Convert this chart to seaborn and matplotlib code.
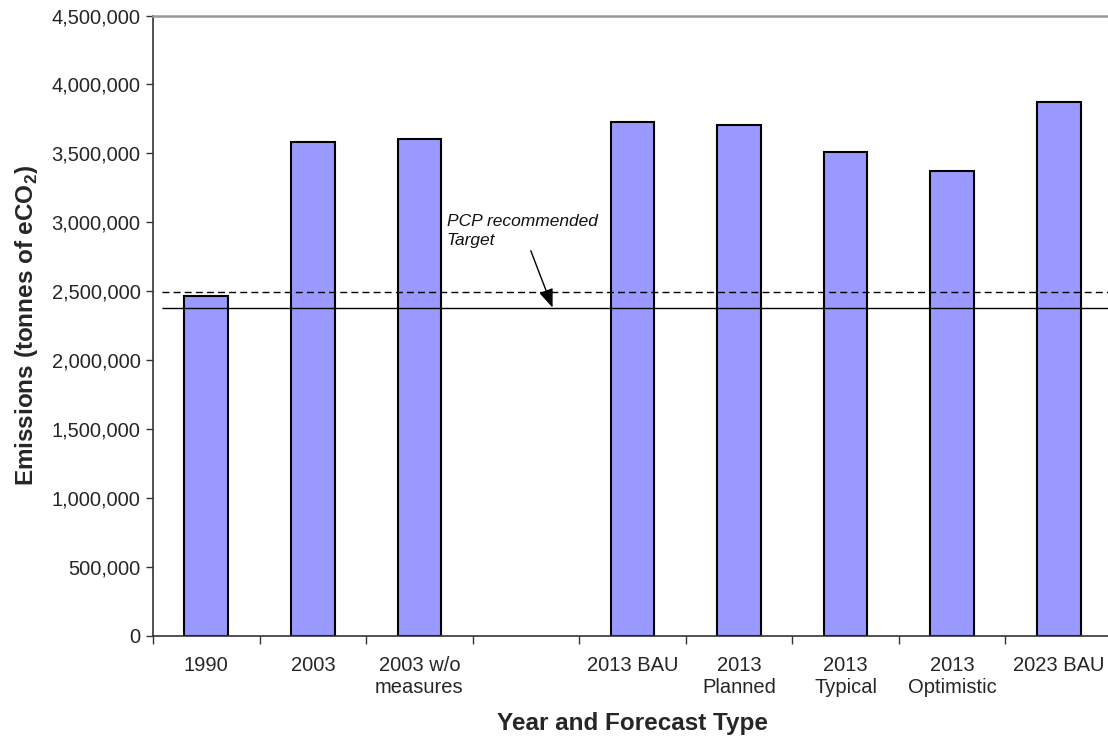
import numpy as np
import pandas as pd
import matplotlib
matplotlib.use("Agg")
import matplotlib.pyplot as plt
from matplotlib.ticker import FuncFormatter
import seaborn as sns

# Emission inventory and forecasts (tonnes eCO2); "" is an empty spacer slot
categories = ["1990", "2003", "2003 w/o\nmeasures", "", "2013 BAU",
              "2013\nPlanned", "2013\nTypical", "2013\nOptimistic", "2023 BAU"]
emission_labels = ["1990", "2003", "2003 w/o\nmeasures", "2013 BAU",
                   "2013\nPlanned", "2013\nTypical", "2013\nOptimistic", "2023 BAU"]
emission_values = [2466000, 3583000, 3605000, 3729000,
                   3703000, 3507000, 3369000, 3874000]

# Reference levels
dashed_level = 2492000
target_level = 2380000

y_ticks = list(range(0, 4500001, 500000))

sns.set_style("ticks")
plt.rcParams["font.family"] = ["Liberation Sans", "DejaVu Sans"]
plt.rcParams["mathtext.fontset"] = "custom"
plt.rcParams["mathtext.rm"] = "Liberation Sans"
plt.rcParams["mathtext.bf"] = "Liberation Sans:bold"

df = pd.DataFrame({"category": emission_labels, "emissions": emission_values})

fig = plt.figure(figsize=(11.08, 7.40), dpi=100)
ax = fig.add_axes([153 / 1108, 1 - 635.5 / 740, (1112 - 153) / 1108, (635.5 - 15.5) / 740])

sns.barplot(data=df, x="category", y="emissions", order=categories,
            color="#9999FF", saturation=1, width=0.41,
            edgecolor="black", linewidth=1.5, ax=ax)

ax.set_xlim(-0.5, len(categories) - 0.5)
ax.set_ylim(0, 4500000)

# Reference lines
ax.hlines(dashed_level, -0.42, len(categories) - 0.5, colors="black",
          linestyles=(0, (5, 3)), linewidth=1.0, zorder=3)
ax.hlines(target_level, -0.42, len(categories) - 0.5, colors="black",
          linewidth=1.0, zorder=3)

ax.annotate("PCP recommended\nTarget", xy=(3.25, target_level),
            xytext=(2.255, 3060000), textcoords="data",
            ha="left", va="top", fontsize=12.5, style="italic", color="#111111",
            linespacing=1.3,
            arrowprops=dict(arrowstyle="-|>,head_length=0.9,head_width=0.35",
                            color="black", lw=1.0, shrinkA=0, shrinkB=0,
                            relpos=(0.55, 0.0)))

# Category labels centred, tick marks between categories
ax.set_xticks(range(len(categories)))
ax.set_xticklabels(categories, fontsize=14.5, linespacing=1.2)
ax.tick_params(axis="x", which="major", length=0, pad=15)
ax.set_xticks(np.arange(-0.5, len(categories), 1.0), minor=True)
ax.tick_params(axis="x", which="minor", length=6, width=1, color="#333333")

ax.set_yticks(y_ticks)
ax.yaxis.set_major_formatter(FuncFormatter(lambda v, p: f"{int(v):,}"))
ax.tick_params(axis="y", length=5, width=1, color="#333333", labelsize=14.5, pad=4)

ax.set_xlabel("Year and Forecast Type", fontsize=17.5, fontweight="bold")
ax.xaxis.set_label_coords(0.5, -0.124)
ax.set_ylabel(r"Emissions (tonnes of eCO$_{\mathbf{2}}$)", fontsize=17.5,
              fontweight="bold", labelpad=8)

for side in ("left", "bottom"):
    ax.spines[side].set_color("#333333")
    ax.spines[side].set_linewidth(1.2)
ax.spines["top"].set_color("#999999")
ax.spines["top"].set_linewidth(1.8)
ax.spines["right"].set_visible(False)

fig.savefig("out.png", dpi=100)
